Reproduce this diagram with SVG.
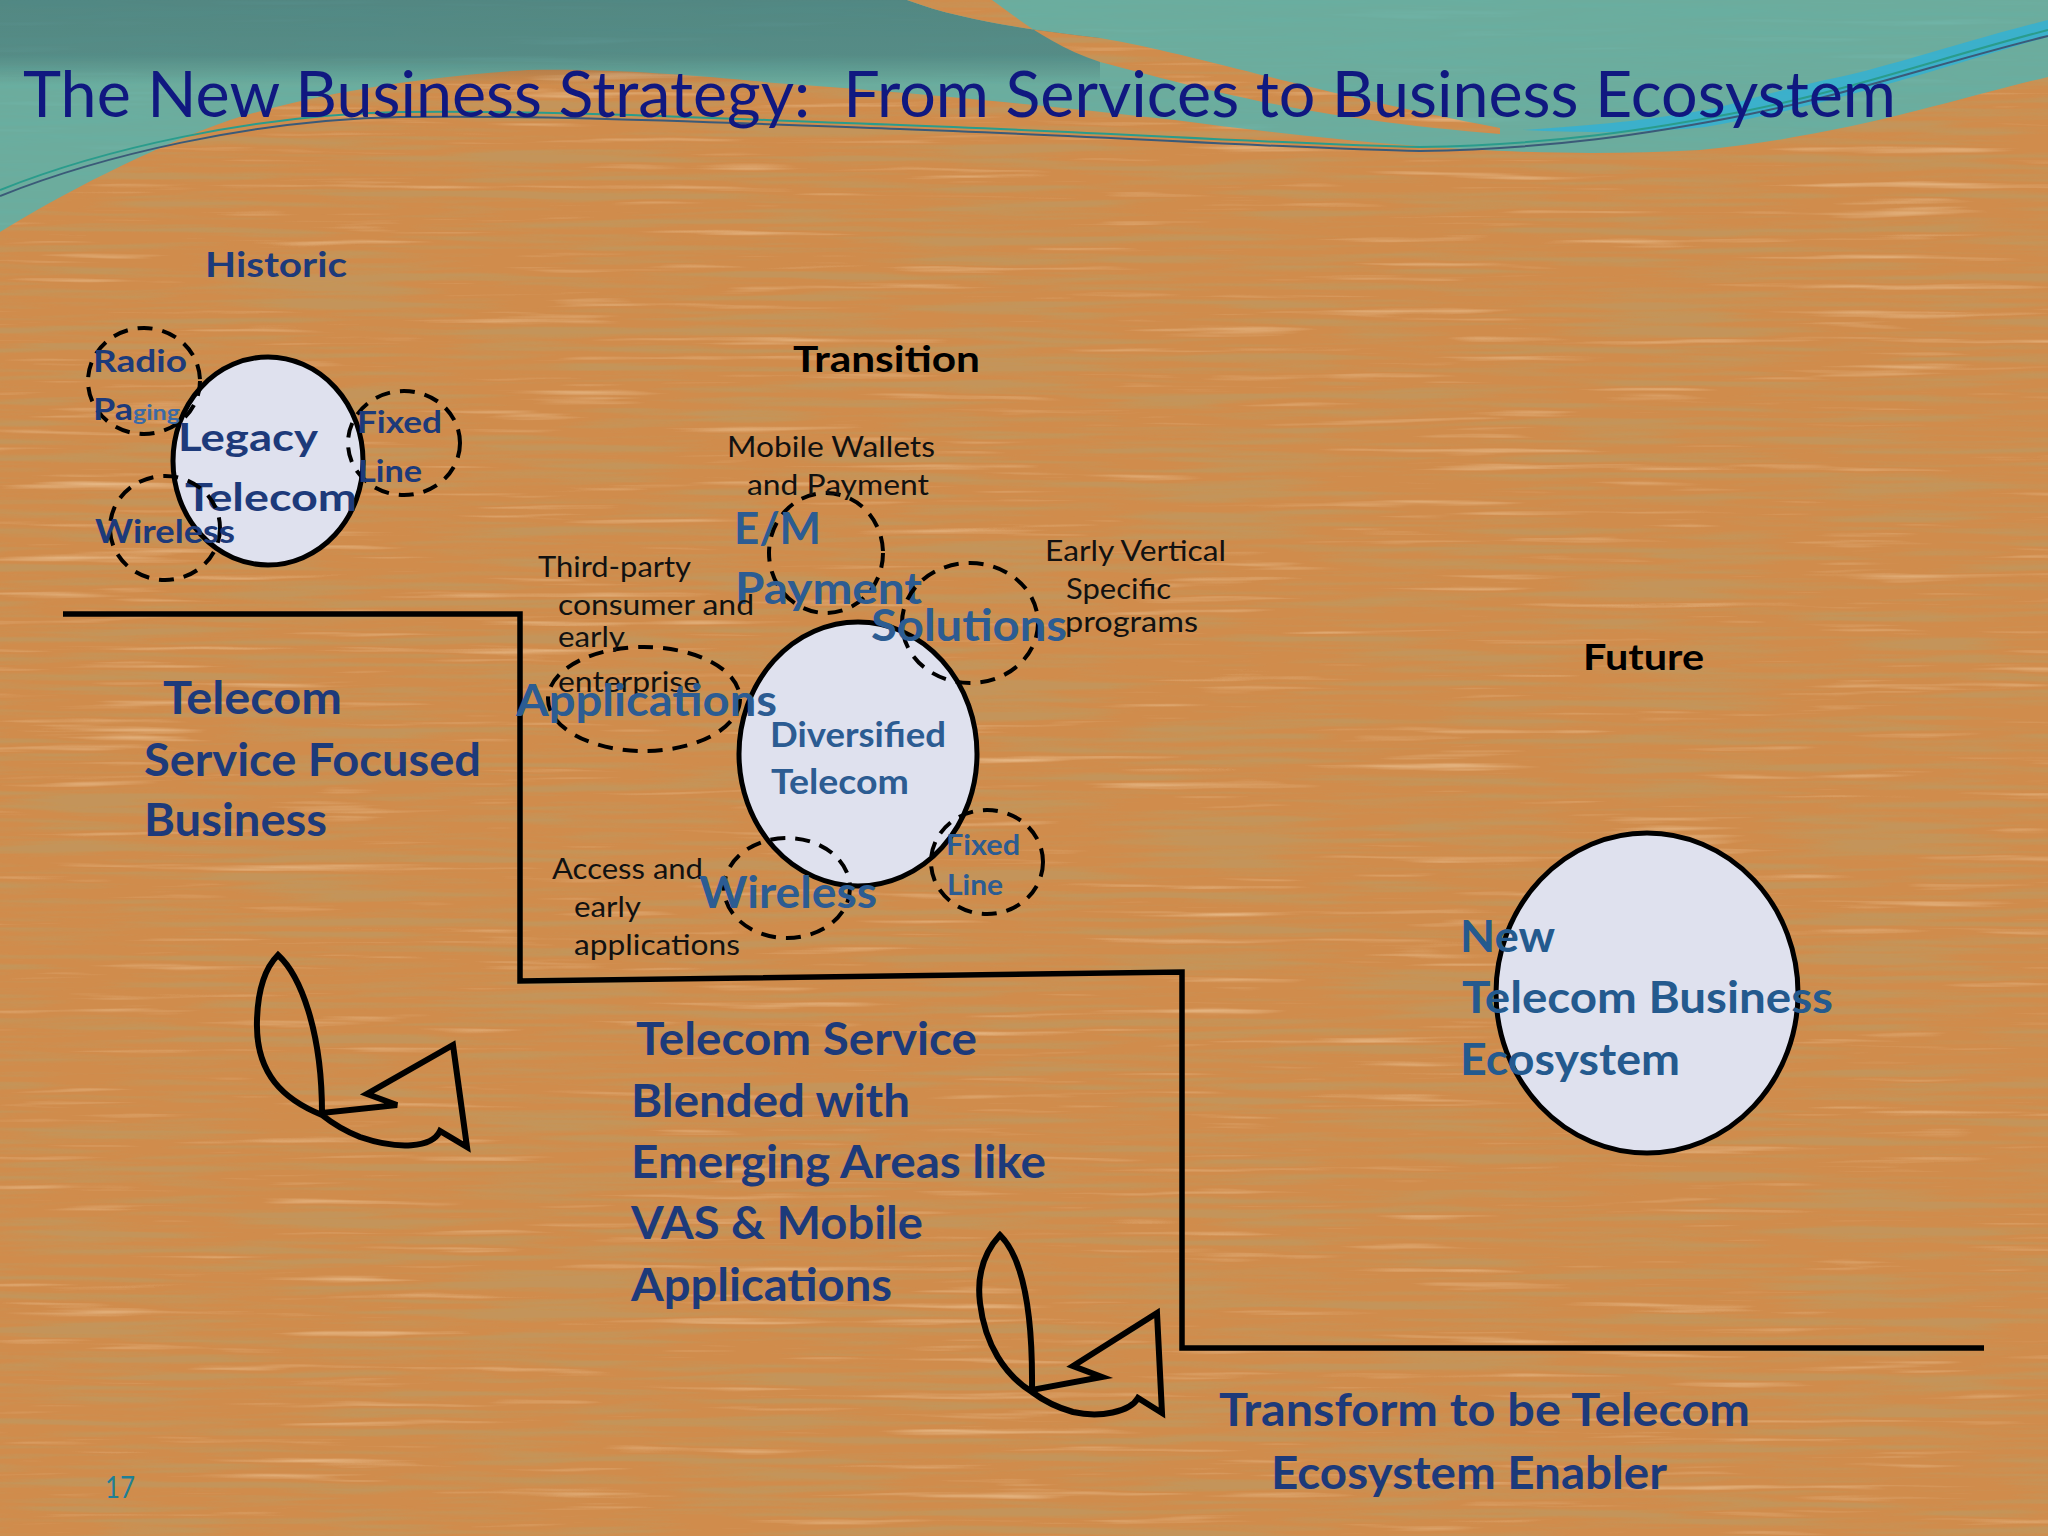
<svg xmlns="http://www.w3.org/2000/svg" width="2048" height="1536" viewBox="0 0 2048 1536">
<defs>
<style>
.ft{font-family:Lato,"Open Sans","Liberation Sans",sans-serif}
.title{font-weight:400;fill:#101880;font-size:63px}
.bn{font-weight:700;fill:#1d3a7a}
.bs{font-weight:700;fill:#2c5c92}
.bk{font-weight:700;fill:#000}
.rg{font-weight:400;fill:#111}
.main{fill:#dfe1ee;stroke:#000;stroke-width:5}
.dash{fill:none;stroke:#000;stroke-width:4;stroke-dasharray:15 10}
.line{fill:none;stroke:#000;stroke-width:5.5;stroke-linejoin:miter}
.swirl{fill:none;stroke:#000;stroke-width:6;stroke-linejoin:miter}
</style>
<filter id="grain" filterUnits="userSpaceOnUse" x="0" y="0" width="2048" height="1536">
<feTurbulence type="fractalNoise" baseFrequency="0.0045 0.11" numOctaves="3" seed="11" result="n"/>
<feColorMatrix in="n" type="matrix" result="dark" values="0 0 0 0 0.55  0 0 0 0 0.3  0 0 0 0 0.1  4.0 0 0 0 -1.85"/>
<feColorMatrix in="n" type="matrix" result="light" values="0 0 0 0 0.9  0 0 0 0 0.65  0 0 0 0 0.4  -2.0 0 0 0 0.72"/>
<feMerge><feMergeNode in="dark"/><feMergeNode in="light"/></feMerge>
</filter>
<mask id="stripMask" maskUnits="userSpaceOnUse" x="0" y="0" width="2048" height="400">
<rect width="2048" height="400" fill="#fff"/>
<path d="M907,0 C960,20 1030,30 1100,38 C1200,55 1300,90 1500,128 L1500,134 C1300,118 1200,88 1100,62 C1050,45 1020,20 992,0 Z" fill="#000"/>
</mask>
<linearGradient id="topDark" gradientUnits="userSpaceOnUse" x1="0" y1="0" x2="0" y2="85">
<stop offset="0" stop-color="#1d3848" stop-opacity="0.32"/>
<stop offset="0.65" stop-color="#1d3848" stop-opacity="0.28"/>
<stop offset="1" stop-color="#1d3848" stop-opacity="0"/>
</linearGradient>
</defs>

<g id="background">
<rect width="2048" height="1536" fill="#d08c4c"/>
<rect width="2048" height="1536" fill="#000" filter="url(#grain)"/>
<g mask="url(#stripMask)">
<path d="M0,0 L2048,0 L2048,77 C1950,100 1850,135 1700,150 C1550,158 1400,150 1175,120 C1000,100 850,88 775,83 C700,75 600,68 528,70 C400,78 300,98 230,120 C150,148 60,195 0,232 Z" fill="#56b3b0" fill-opacity="0.82"/>
<path d="M0,0 L907,0 C960,20 1030,30 1100,38 L1100,90 L0,90 Z" fill="url(#topDark)"/>
</g>
<path d="M2048,20 C1950,45 1880,70 1825,80 C1760,95 1720,108 1705,110 C1650,120 1600,125 1523,130 C1600,134 1650,132 1705,127 C1760,118 1830,102 1946,67 C1990,54 2020,44 2048,37 Z" fill="#2cb2da" fill-opacity="0.75"/>
<path d="M0,190 C100,150 250,115 400,112 C550,110 700,118 900,125 C1100,132 1300,145 1420,147 C1550,145 1650,130 1750,110 C1850,90 1950,55 2048,30" fill="none" stroke="#2a9c8c" stroke-width="2"/>
<path d="M0,196 C100,156 250,120 400,117 C550,115 700,122 900,129 C1100,136 1300,149 1420,151 C1550,149 1650,134 1750,114 C1850,94 1950,60 2048,36" fill="none" stroke="#3b5a78" stroke-width="2"/>
</g>

<g id="title">
<text class="ft title" x="23" y="117" textLength="1873" lengthAdjust="spacingAndGlyphs">The New Business Strategy:&#160; From Services to Business Ecosystem</text>
</g>

<g id="connectors">
<path class="line" d="M63,614 L520,614 L520,981 L1182,972 L1182,1348 L1984,1348"/>
<path class="swirl" d="M278,955 C300,975 322,1030 322,1113 L397,1105 L367,1094 L453,1045 L467,1147 L440,1131 C432,1148 398,1150 360,1137 C345,1131 332,1123 322,1115 C285,1100 255,1075 257,1020 C258,985 268,965 278,955 Z"/>
<path class="swirl" d="M1000,1235 C1020,1255 1033,1300 1032,1390 L1102,1377 L1073,1366 L1157,1313 L1162,1413 L1138,1398 C1130,1412 1100,1418 1073,1412 C1055,1407 1040,1398 1032,1392 C1005,1375 985,1345 980,1303 C976,1270 988,1248 1000,1235 Z"/>
</g>

<g id="historic-label">
<text class="ft bn" x="205" y="277" font-size="35" textLength="142" lengthAdjust="spacingAndGlyphs">Historic</text>
</g>

<g id="legacy-telecom">
<ellipse class="main" cx="268" cy="461" rx="95" ry="104"/>
<text class="ft bn" font-size="39" x="178" y="451" textLength="140" lengthAdjust="spacingAndGlyphs">Legacy</text>
<text class="ft bn" font-size="39" x="185" y="511" textLength="172" lengthAdjust="spacingAndGlyphs">Telecom</text>
</g>

<g id="radio-paging">
<ellipse class="dash" cx="144" cy="381" rx="56" ry="53"/>
<text class="ft bn" font-size="31" x="93" y="372" textLength="94" lengthAdjust="spacingAndGlyphs">Radio</text>
<text class="ft bn" font-size="31" x="93" y="420" textLength="40" lengthAdjust="spacingAndGlyphs">Pa</text>
<text class="ft" font-weight="700" fill="#3a6aa6" font-size="21" x="133" y="420" textLength="47" lengthAdjust="spacingAndGlyphs">ging</text>
</g>

<g id="legacy-fixed-line">
<ellipse class="dash" cx="404" cy="443" rx="56" ry="52"/>
<text class="ft bn" font-size="31" x="357" y="433" textLength="85" lengthAdjust="spacingAndGlyphs">Fixed</text>
<text class="ft bn" font-size="31" x="358" y="482" textLength="64" lengthAdjust="spacingAndGlyphs">Line</text>
</g>

<g id="legacy-wireless">
<ellipse class="dash" cx="165" cy="528" rx="55" ry="52"/>
<text class="ft bn" font-size="32" x="95" y="543" textLength="140" lengthAdjust="spacingAndGlyphs">Wireless</text>
</g>

<g id="telecom-service-focused">
<text class="ft bn" font-size="46" x="163" y="714" textLength="179" lengthAdjust="spacingAndGlyphs">Telecom</text>
<text class="ft bn" font-size="46" x="144" y="776" textLength="337" lengthAdjust="spacingAndGlyphs">Service Focused</text>
<text class="ft bn" font-size="46" x="144" y="836" textLength="183" lengthAdjust="spacingAndGlyphs">Business</text>
</g>

<g id="transition-label">
<text class="ft bk" font-size="36" x="793" y="372" textLength="187" lengthAdjust="spacingAndGlyphs">Transition</text>
</g>

<g id="diversified-telecom">
<ellipse class="main" cx="858" cy="754" rx="119" ry="132"/>
<text class="ft bs" font-size="34" x="770" y="747" textLength="176" lengthAdjust="spacingAndGlyphs">Diversified</text>
<text class="ft bs" font-size="34" x="771" y="794" textLength="138" lengthAdjust="spacingAndGlyphs">Telecom</text>
</g>

<g id="em-payment">
<ellipse class="dash" cx="826" cy="553" rx="57" ry="60"/>
<text class="ft rg" font-size="28" x="727" y="457" textLength="208" lengthAdjust="spacingAndGlyphs">Mobile Wallets</text>
<text class="ft rg" font-size="28" x="747" y="495" textLength="182" lengthAdjust="spacingAndGlyphs">and Payment</text>
<text class="ft bs" font-size="44" x="734" y="544" textLength="87" lengthAdjust="spacingAndGlyphs">E/M</text>
<text class="ft bs" font-size="44" x="735" y="604" textLength="187" lengthAdjust="spacingAndGlyphs">Payment</text>
</g>

<g id="solutions">
<ellipse class="dash" cx="970" cy="623" rx="68" ry="60"/>
<text class="ft rg" font-size="28" x="1045" y="561" textLength="181" lengthAdjust="spacingAndGlyphs">Early Vertical</text>
<text class="ft rg" font-size="28" x="1066" y="599" textLength="105" lengthAdjust="spacingAndGlyphs">Specific</text>
<text class="ft rg" font-size="28" x="1065" y="632" textLength="133" lengthAdjust="spacingAndGlyphs">programs</text>
<text class="ft bs" font-size="44" x="871" y="641" textLength="196" lengthAdjust="spacingAndGlyphs">Solutions</text>
</g>

<g id="applications">
<ellipse class="dash" cx="644" cy="699" rx="96" ry="52"/>
<text class="ft rg" font-size="28" x="538" y="577" textLength="153" lengthAdjust="spacingAndGlyphs">Third-party</text>
<text class="ft rg" font-size="28" x="558" y="615" textLength="196" lengthAdjust="spacingAndGlyphs">consumer and</text>
<text class="ft rg" font-size="28" x="558" y="647" textLength="67" lengthAdjust="spacingAndGlyphs">early</text>
<text class="ft rg" font-size="28" x="558" y="692" textLength="142" lengthAdjust="spacingAndGlyphs">enterprise</text>
<text class="ft bs" font-size="44" x="516" y="716" textLength="261" lengthAdjust="spacingAndGlyphs">Applications</text>
</g>

<g id="diversified-fixed-line">
<ellipse class="dash" cx="987" cy="862" rx="56" ry="52"/>
<text class="ft bs" font-size="28" x="946" y="855" textLength="74" lengthAdjust="spacingAndGlyphs">Fixed</text>
<text class="ft bs" font-size="28" x="947" y="895" textLength="56" lengthAdjust="spacingAndGlyphs">Line</text>
</g>

<g id="diversified-wireless">
<ellipse class="dash" cx="787" cy="888" rx="63" ry="50"/>
<text class="ft rg" font-size="28" x="552" y="879" textLength="151" lengthAdjust="spacingAndGlyphs">Access and</text>
<text class="ft rg" font-size="28" x="574" y="917" textLength="67" lengthAdjust="spacingAndGlyphs">early</text>
<text class="ft rg" font-size="28" x="574" y="955" textLength="166" lengthAdjust="spacingAndGlyphs">applications</text>
<text class="ft bs" font-size="44" x="699" y="908" textLength="178" lengthAdjust="spacingAndGlyphs">Wireless</text>
</g>

<g id="telecom-service-blended">
<text class="ft bn" font-size="46" x="636" y="1055" textLength="341" lengthAdjust="spacingAndGlyphs">Telecom Service</text>
<text class="ft bn" font-size="46" x="631" y="1117" textLength="279" lengthAdjust="spacingAndGlyphs">Blended with</text>
<text class="ft bn" font-size="46" x="631" y="1178" textLength="415" lengthAdjust="spacingAndGlyphs">Emerging Areas like</text>
<text class="ft bn" font-size="46" x="631" y="1239" textLength="292" lengthAdjust="spacingAndGlyphs">VAS &amp; Mobile</text>
<text class="ft bn" font-size="46" x="631" y="1301" textLength="261" lengthAdjust="spacingAndGlyphs">Applications</text>
</g>

<g id="future-label">
<text class="ft bk" font-size="36" x="1583" y="670" textLength="121" lengthAdjust="spacingAndGlyphs">Future</text>
</g>

<g id="new-telecom-ecosystem">
<ellipse class="main" cx="1647" cy="993" rx="151" ry="160"/>
<text class="ft" font-weight="700" fill="#245a8e" font-size="43" x="1460" y="952" textLength="95" lengthAdjust="spacingAndGlyphs">New</text>
<text class="ft" font-weight="700" fill="#245a8e" font-size="43" x="1462" y="1013" textLength="371" lengthAdjust="spacingAndGlyphs">Telecom Business</text>
<text class="ft" font-weight="700" fill="#245a8e" font-size="43" x="1460" y="1075" textLength="220" lengthAdjust="spacingAndGlyphs">Ecosystem</text>
</g>

<g id="transform-label">
<text class="ft bn" font-size="46" x="1219" y="1426" textLength="531" lengthAdjust="spacingAndGlyphs">Transform to be Telecom</text>
<text class="ft bn" font-size="46" x="1271" y="1489" textLength="396" lengthAdjust="spacingAndGlyphs">Ecosystem Enabler</text>
</g>

<g id="page-number">
<text class="ft" fill="#1f7f95" font-size="30" x="105" y="1498" textLength="30" lengthAdjust="spacingAndGlyphs">17</text>
</g>
</svg>
